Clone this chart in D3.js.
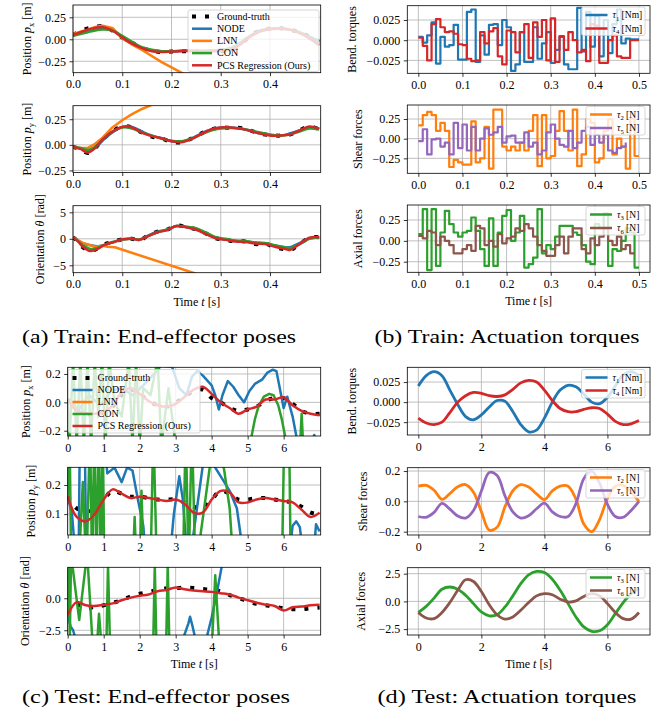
<!DOCTYPE html>
<html>
<head>
<meta charset="utf-8">
<script src="https://cdn.jsdelivr.net/npm/d3@7"></script>
<style>
  body { margin: 0; background: #fff; }
</style>
</head>
<body>
<script>
  const FONT = '"Liberation Serif", "DejaVu Serif", serif';

  // ---------- train: end-effector poses ----------
  const pxT = [0, 0.015, 0.03, 0.045, 0.06, 0.08, 0.10, 0.12, 0.14, 0.16, 0.18, 0.20, 0.22, 0.24, 0.26, 0.28, 0.30, 0.32, 0.34, 0.36, 0.38, 0.40, 0.42, 0.44, 0.46, 0.48, 0.50];
  const pxGT   = [0.05, 0.09, 0.125, 0.14, 0.15, 0.10, 0.02, -0.04, -0.10, -0.13, -0.145, -0.14, -0.135, -0.14, -0.14, -0.14, -0.135, -0.125, -0.06, 0.04, 0.10, 0.12, 0.125, 0.11, 0.08, 0.03, -0.03];
  const pxPCS  = [0.05, 0.08, 0.11, 0.13, 0.14, 0.10, 0.02, -0.05, -0.10, -0.135, -0.145, -0.14, -0.135, -0.135, -0.14, -0.14, -0.13, -0.12, -0.06, 0.03, 0.09, 0.115, 0.12, 0.11, 0.07, 0.01, -0.07];
  const pxNODE = [0.05, 0.075, 0.10, 0.12, 0.13, 0.10, 0.03, -0.04, -0.10, -0.13, -0.14, -0.14, -0.13, -0.13, -0.135, -0.13, -0.12, -0.10, -0.04, 0.04, 0.10, 0.12, 0.125, 0.11, 0.08, 0.03, -0.02];
  const pxCON  = [0.04, 0.06, 0.08, 0.10, 0.11, 0.10, 0.04, -0.03, -0.09, -0.12, -0.135, -0.135, -0.13, -0.13, -0.13, -0.13, -0.12, -0.10, -0.04, 0.04, 0.09, 0.12, 0.125, 0.11, 0.08, 0.02, -0.05];
  const pxLNN  = [0.06, 0.085, 0.11, 0.14, 0.155, 0.13, 0.01, -0.06, -0.12, -0.19, -0.26, -0.32, -0.38, -0.44, -0.50];

  const pyT = [0, 0.015, 0.03, 0.045, 0.06, 0.08, 0.10, 0.12, 0.14, 0.16, 0.18, 0.20, 0.22, 0.24, 0.26, 0.28, 0.30, 0.32, 0.34, 0.36, 0.38, 0.40, 0.42, 0.44, 0.46, 0.48, 0.50];
  const pyGT   = [-0.02, -0.04, -0.08, -0.03, 0.05, 0.13, 0.18, 0.17, 0.12, 0.08, 0.06, 0.03, 0.025, 0.06, 0.11, 0.15, 0.17, 0.165, 0.165, 0.14, 0.11, 0.095, 0.09, 0.10, 0.14, 0.18, 0.15];
  const pyPCS  = [-0.02, -0.04, -0.075, -0.03, 0.05, 0.13, 0.175, 0.17, 0.12, 0.085, 0.065, 0.035, 0.025, 0.055, 0.105, 0.15, 0.17, 0.17, 0.16, 0.135, 0.11, 0.09, 0.09, 0.10, 0.14, 0.18, 0.155];
  const pyNODE = [-0.02, -0.035, -0.06, -0.03, 0.04, 0.12, 0.175, 0.175, 0.13, 0.09, 0.065, 0.035, 0.03, 0.06, 0.11, 0.15, 0.17, 0.17, 0.16, 0.14, 0.11, 0.095, 0.09, 0.11, 0.14, 0.17, 0.16];
  const pyCON  = [-0.02, -0.03, -0.05, -0.02, 0.05, 0.13, 0.17, 0.16, 0.12, 0.09, 0.06, 0.04, 0.035, 0.06, 0.10, 0.14, 0.16, 0.165, 0.16, 0.14, 0.12, 0.10, 0.09, 0.10, 0.13, 0.16, 0.15];
  const pyLNN  = [-0.02, -0.03, -0.03, 0.01, 0.07, 0.17, 0.24, 0.30, 0.35, 0.39, 0.43];

  const thT = [0, 0.01, 0.02, 0.035, 0.05, 0.065, 0.08, 0.10, 0.12, 0.135, 0.15, 0.17, 0.19, 0.21, 0.23, 0.25, 0.27, 0.29, 0.31, 0.33, 0.35, 0.37, 0.39, 0.41, 0.43, 0.44, 0.46, 0.48, 0.50];
  const thGT   = [0.3, -0.5, -1.6, -2.3, -1.8, -1.0, -0.6, -0.1, 0.0, -0.3, 0.5, 1.3, 1.7, 2.5, 2.2, 1.8, 1.0, 0.1, -0.2, -0.5, -0.5, -1.0, -0.9, -1.6, -2.0, -2.2, -1.0, 0.2, 0.3];
  const thPCS  = [0.3, -0.5, -1.5, -2.3, -1.9, -1.1, -0.7, -0.1, 0.0, -0.2, 0.4, 1.2, 1.6, 2.4, 2.2, 1.7, 0.9, 0.1, -0.2, -0.5, -0.6, -0.9, -1.0, -1.5, -1.9, -2.1, -1.0, 0.2, 0.3];
  const thNODE = [0.3, -0.3, -0.8, -1.2, -1.4, -1.1, -0.7, -0.1, 0.0, -0.2, 0.5, 1.3, 1.7, 2.4, 2.2, 1.8, 1.0, 0.2, -0.1, -0.4, -0.5, -0.7, -0.9, -1.3, -1.6, -1.6, -0.8, 0.1, 0.2];
  const thCON  = [0.3, -0.4, -1.2, -1.9, -1.7, -1.1, -0.6, -0.2, 0.0, -0.1, 0.4, 1.2, 1.7, 2.4, 2.3, 2.0, 1.2, 0.3, 0.0, -0.3, -0.4, -0.7, -0.8, -1.2, -1.6, -1.8, -1.0, 0.0, 0.3];
  const thLNNT = [0, 0.02, 0.045, 0.06, 0.07, 0.085, 0.25];
  const thLNN  = [0.3, -0.8, -1.5, -1.3, -1.5, -1.6, -6.6];

  // ---------- train: actuation torques (piecewise constant) ----------
  const stepT = [0, 0.01, 0.02, 0.03, 0.04, 0.05, 0.06, 0.07, 0.08, 0.09, 0.10, 0.11, 0.12, 0.13, 0.14, 0.15, 0.16, 0.17, 0.18, 0.19, 0.20, 0.21, 0.22, 0.23, 0.24, 0.25, 0.26, 0.27, 0.28, 0.29, 0.30, 0.31, 0.32, 0.33, 0.34, 0.35, 0.36, 0.37, 0.38, 0.39, 0.40, 0.41, 0.42, 0.43, 0.44, 0.45, 0.46, 0.47, 0.48, 0.49, 0.50];
  const tau1Train = [0.004, -0.003, 0.006, 0.022, -0.029, 0.004, -0.008, -0.006, 0.019, -0.024, -0.024, 0.035, 0.038, -0.027, 0.006, -0.018, 0.019, 0.020, -0.006, 0.025, 0.016, -0.038, -0.030, 0.010, -0.027, -0.027, 0.016, -0.023, -0.004, 0.010, -0.028, -0.012, 0.004, -0.030, -0.036, -0.036, 0.040, -0.014, 0.035, -0.008, 0.030, -0.020, 0.025, -0.016, 0.020, 0.038, -0.004, 0.002, 0.001, 0.001, 0.001];
  const tau4Train = [0.003, -0.007, -0.025, 0.020, 0.026, 0.016, 0.010, 0.011, 0.008, -0.005, -0.006, -0.023, -0.026, -0.025, 0.010, -0.004, 0.011, 0.015, -0.020, -0.030, 0.012, 0.010, -0.015, 0.010, 0.020, -0.022, 0.022, 0.004, 0.025, -0.025, 0.027, -0.027, 0.005, -0.012, 0.010, 0.000, -0.015, -0.012, -0.026, 0.020, 0.018, -0.028, -0.028, 0.000, 0.006, -0.020, -0.022, -0.022, 0.000, 0.000, 0.000];
  const tau2Train = [0.17, 0.30, 0.34, 0.30, 0.10, 0.20, 0.10, -0.36, -0.27, -0.30, -0.33, -0.33, 0.22, -0.30, -0.25, 0.15, -0.38, 0.37, 0.37, -0.10, -0.15, -0.10, -0.15, -0.05, -0.15, 0.10, 0.30, -0.35, 0.30, -0.25, -0.22, 0.10, 0.35, 0.10, -0.15, 0.37, -0.35, -0.20, 0.25, 0.20, -0.30, -0.25, 0.10, 0.25, -0.20, 0.00, -0.10, -0.38, 0.25, -0.22, -0.22];
  const tau5Train = [-0.03, 0.12, -0.20, -0.01, 0.00, -0.10, -0.05, -0.20, 0.20, -0.12, 0.18, -0.15, 0.15, -0.15, 0.00, 0.13, 0.05, 0.08, 0.15, -0.05, 0.03, 0.04, -0.05, -0.05, 0.08, -0.10, -0.05, -0.20, -0.15, 0.08, 0.18, 0.00, -0.08, -0.10, 0.10, -0.12, -0.05, 0.10, 0.15, -0.08, 0.05, -0.05, 0.05, -0.15, -0.18, -0.12, -0.10, -0.05];
  const tau3Train = [0.08, 0.38, -0.35, 0.38, -0.30, 0.10, 0.36, 0.20, 0.10, 0.05, 0.10, 0.12, 0.28, 0.12, -0.10, -0.30, 0.27, -0.30, 0.10, 0.30, 0.37, 0.00, 0.10, 0.30, -0.32, -0.28, -0.20, 0.38, -0.15, -0.05, -0.10, 0.05, 0.18, 0.18, 0.18, 0.10, 0.07, -0.05, -0.25, -0.28, 0.20, 0.15, 0.33, -0.30, -0.10, -0.12, 0.00, 0.15, 0.10, -0.32, -0.32];
  const tau6Train = [0.06, 0.03, 0.12, 0.10, -0.05, 0.05, 0.00, -0.05, -0.15, -0.15, -0.10, -0.05, -0.12, 0.18, 0.15, -0.05, 0.00, -0.07, 0.08, -0.03, 0.03, 0.05, 0.15, 0.12, 0.20, 0.15, 0.05, -0.05, -0.12, -0.18, -0.18, -0.05, 0.05, -0.15, 0.05, 0.15, 0.15, -0.10, -0.15, 0.03, -0.05, 0.05, 0.15, 0.00, -0.05, 0.05, -0.10, -0.05, -0.15, -0.15];

  // ---------- test: end-effector poses ----------
  const testT = [0, 0.25, 0.5, 0.75, 1.0, 1.25, 1.5, 1.75, 2.0, 2.25, 2.5, 2.75, 3.0, 3.25, 3.5, 3.75, 4.0, 4.25, 4.5, 4.75, 5.0, 5.25, 5.5, 5.75, 6.0, 6.25, 6.5, 6.75, 7.0];
  const pxGTTest  = [0.02, -0.05, -0.08, -0.09, -0.07, -0.03, 0.05, 0.09, 0.06, 0.01, -0.02, -0.03, 0.0, 0.04, 0.08, 0.09, 0.03, 0.0, -0.04, -0.06, -0.05, -0.03, 0.01, 0.03, 0.03, -0.01, -0.06, -0.08, -0.08];
  const pxPCSTest = [0.02, -0.06, -0.075, -0.08, -0.07, -0.02, 0.07, 0.10, 0.06, 0.01, -0.02, -0.03, -0.01, 0.04, 0.09, 0.11, 0.06, 0.00, -0.04, -0.08, -0.05, -0.03, 0.02, 0.02, 0.035, -0.02, -0.06, -0.08, -0.09];
  const pxNODETest = [[0, 0.02], [0.3, -0.05], [0.6, 0.05], [0.9, -0.02], [1.2, 0.08], [1.5, 0.10], [1.8, 0.05], [2.1, 0.12], [2.4, 0.20], [2.6, 0.26], [2.9, 0.25], [3.1, 0.10], [3.3, 0.05], [3.45, 0.18], [3.6, 0.22], [3.75, 0.19], [4.0, 0.12], [4.1, 0.05], [4.2, -0.05], [4.3, 0.05], [4.45, 0.15], [4.6, 0.11], [4.75, 0.05], [4.9, 0.0], [5.05, 0.08], [5.2, 0.13], [5.4, 0.16], [5.55, 0.21], [5.7, 0.23], [5.8, 0.22], [5.9, 0.09], [6.0, -0.04], [6.1, 0.04], [6.25, -0.10], [6.4, -0.30], [6.75, -0.30], [6.85, -0.23], [6.95, -0.30]];
  const pxCONTest = [[0, 0.02], [0.05, -0.3], [0.15, 0.3], [0.25, -0.3], [0.35, 0.3], [0.45, -0.3], [0.55, 0.3], [0.65, -0.3], [0.75, 0.3], [0.85, -0.1], [0.95, 0.3], [1.05, -0.3], [1.15, 0.3], [1.3, 0.0], [1.5, -0.1], [1.7, 0.3], [1.8, -0.3], [1.9, 0.3], [2.0, -0.3], [2.1, 0.1], [2.3, 0.05], [2.5, 0.3], [2.6, -0.3], [2.8, 0.1], [3.0, -0.3], [3.4, -0.5], [5.0, -0.6], [5.1, -0.25], [5.2, -0.12], [5.3, -0.03], [5.45, 0.04], [5.6, 0.06], [5.72, 0.05], [5.85, -0.02], [5.95, -0.12], [6.05, -0.25], [6.4, -0.6], [6.5, -0.08], [6.6, -0.6], [7.0, -0.6]];

  const pyGTTest  = [0.16, 0.12, 0.11, 0.115, 0.15, 0.18, 0.17, 0.16, 0.16, 0.155, 0.15, 0.15, 0.15, 0.14, 0.125, 0.12, 0.15, 0.18, 0.17, 0.15, 0.15, 0.155, 0.155, 0.15, 0.145, 0.14, 0.125, 0.105, 0.10];
  const pyPCSTest = [0.16, 0.09, 0.075, 0.10, 0.15, 0.185, 0.17, 0.155, 0.16, 0.155, 0.15, 0.145, 0.15, 0.135, 0.105, 0.105, 0.15, 0.18, 0.175, 0.14, 0.14, 0.15, 0.155, 0.15, 0.145, 0.14, 0.115, 0.09, 0.105];
  const pyNODETest = [[0, 0.16], [0.12, 0.10], [0.25, -0.1], [0.3, -0.1], [0.34, 0.4], [0.47, 0.4], [0.52, -0.1], [0.9, -0.1], [1.0, 0.4], [1.1, 0.24], [1.3, 0.26], [1.5, 0.21], [1.65, 0.26], [1.8, 0.25], [1.95, 0.15], [2.1, 0.06], [2.2, -0.1], [2.8, -0.1], [2.95, 0.1], [3.1, 0.23], [3.2, 0.15], [3.35, -0.1], [3.9, 0.4], [4.1, 0.26], [4.3, 0.22], [4.5, 0.18], [4.7, 0.12], [4.95, -0.1], [6.1, -0.1], [6.25, 0.06], [6.35, 0.075], [6.45, 0.055], [6.6, -0.1], [6.8, -0.1], [6.9, 0.065], [7.0, 0.04]];
  const pyCONTest = [[0, 0.16], [0.05, 0.4], [0.1, -0.1], [0.3, -0.1], [0.42, 0.21], [0.52, -0.1], [0.62, 0.4], [0.68, -0.1], [0.74, 0.4], [0.8, -0.1], [0.86, 0.4], [0.92, -0.1], [0.97, 0.4], [1.02, -0.1], [1.8, -0.1], [1.86, 0.09], [1.92, -0.1], [2.0, -0.1], [2.05, 0.18], [2.12, -0.1], [2.3, -0.1], [2.38, 0.4], [2.48, -0.1], [3.2, -0.1], [3.28, 0.4], [3.36, -0.1], [3.45, 0.4], [3.55, -0.1], [4.1, 0.4], [4.35, 0.25], [4.5, 0.12], [4.62, -0.1], [5.95, -0.1], [6.02, 0.4], [6.15, 0.4], [6.2, -0.1], [7.0, -0.1]];

  const thGTTest  = [-1.2, -0.5, -0.8, -0.65, -0.55, -0.35, -0.15, 0.15, 0.35, 0.5, 0.65, 0.78, 0.8, 0.82, 0.8, 0.72, 0.65, 0.55, 0.25, 0.0, -0.2, -0.45, -0.55, -0.65, -0.78, -0.85, -0.85, -0.78, -0.73];
  const thPCSTest = [-1.3, -0.3, -0.55, -0.6, -0.5, -0.4, -0.15, 0.05, 0.2, 0.3, 0.55, 0.65, 0.85, 0.7, 0.6, 0.55, 0.5, 0.4, 0.3, 0.05, -0.15, -0.35, -0.5, -0.6, -0.95, -0.7, -0.65, -0.55, -0.5];
  const thNODETest = [[0, -1.3], [0.08, -2.2], [0.15, -2.5], [0.22, -3.2], [3.2, -3.2], [3.35, -2.0], [3.4, -1.45], [3.47, -2.2], [3.55, -3.2], [3.85, -3.2], [4.0, -1.5], [4.15, 0.5], [4.3, 2.8], [7.0, 2.8]];
  const thCONTest = [[0, -1.3], [0.03, 2.6], [0.06, -3.0], [0.09, 2.6], [0.13, 2.6], [0.32, -1.7], [0.5, 2.6], [0.56, 2.6], [0.68, -3.0], [0.83, -3.0], [0.87, -1.2], [0.92, -3.0], [1.08, -3.0], [1.12, 2.6], [1.17, -3.0], [2.38, -3.0], [2.42, 2.6], [2.46, -3.0], [2.74, -3.0], [2.78, 2.6], [2.82, -3.0], [4.02, -3.0], [4.1, 1.8], [4.2, -3.0], [7.0, -3.0]];

  // ---------- test: actuation torques ----------
  const tau1Test = [0.020, 0.033, 0.038, 0.033, 0.015, -0.003, -0.018, -0.022, -0.016, -0.006, 0.002, 0.001, -0.012, -0.028, -0.037, -0.035, -0.020, 0.000, 0.015, 0.021, 0.019, 0.010, 0.000, -0.002, 0.006, 0.020, 0.034, 0.038, 0.033];
  const tau4Test = [-0.020, -0.026, -0.028, -0.025, -0.013, 0.000, 0.008, 0.012, 0.011, 0.008, 0.007, 0.009, 0.016, 0.024, 0.027, 0.025, 0.015, 0.002, -0.008, -0.012, -0.012, -0.009, -0.007, -0.008, -0.015, -0.024, -0.028, -0.027, -0.023];
  const tau2Test = [0.100, 0.105, 0.073, 0.013, 0.051, 0.097, 0.110, 0.060, -0.068, -0.190, -0.170, -0.035, 0.070, 0.110, 0.095, 0.049, 0.012, 0.069, 0.100, 0.100, 0.015, -0.150, -0.200, -0.120, 0.020, 0.100, 0.105, 0.060, 0.000];
  const tau5Test = [-0.100, -0.105, -0.073, -0.013, -0.051, -0.097, -0.110, -0.060, 0.068, 0.190, 0.170, 0.035, -0.070, -0.110, -0.095, -0.049, -0.012, -0.069, -0.100, -0.100, -0.015, 0.150, 0.200, 0.120, -0.020, -0.100, -0.105, -0.060, 0.000];
  const tau3Test = [-1.0, -0.45, 0.3, 1.1, 1.3, 1.1, 0.55, -0.2, -0.95, -1.3, -1.2, -0.5, 0.5, 1.6, 2.4, 2.7, 2.6, 2.0, 1.0, -0.2, -1.4, -2.3, -2.7, -2.65, -2.1, -1.1, -0.1, 0.7, 1.2];
  const tau6Test = [-1.0, -1.5, -1.55, -1.0, -0.1, 1.0, 1.95, 1.8, 0.9, -0.3, -1.2, -1.6, -1.4, -0.8, -0.1, 0.5, 0.7, 0.6, 0.2, -0.05, 0.05, 0.45, 0.7, 0.5, -0.2, -1.0, -1.55, -1.6, -1.0];

  const trainLeftTicks = [0, 0.1, 0.2, 0.3, 0.4];
  const trainRightTicks = [0, 0.1, 0.2, 0.3, 0.4, 0.5];
  const testLeftTicks = [0, 1, 2, 3, 4, 5, 6];
  const testRightTicks = [0, 2, 4, 6];

  const C = { gt: '#000000', node: '#1f77b4', lnn: '#ff7f0e', con: '#2ca02c', pcs: '#d62728', purple: '#9467bd', brown: '#8c564b' };

  const svg = d3.select('body').append('svg')
    .attr('width', 665).attr('height', 715)
    .attr('font-family', FONT);

  // text with italic / subscript pieces
  function rich(sel, parts, fs) {
    let shift = 0;
    parts.forEach(p => {
      const ts = sel.append('tspan');
      if (typeof p === 'string') {
        ts.text(p);
        if (shift) { ts.attr('dy', -shift); shift = 0; }
      } else if (p.i) {
        ts.text(p.i).attr('font-style', 'italic');
        if (shift) { ts.attr('dy', -shift); shift = 0; }
      } else if (p.sub) {
        shift = fs * 0.25;
        ts.text(p.sub).attr('font-size', fs * 0.7).attr('dy', shift);
      }
    });
  }

  function legend(g, L) {
    const lg = g.append('g');
    lg.append('rect')
      .attr('x', L.x).attr('y', L.y).attr('width', L.w).attr('height', L.h).attr('rx', 2)
      .attr('fill', 'white').attr('fill-opacity', 0.8)
      .attr('stroke', '#cccccc').attr('stroke-width', 0.8);
    L.items.forEach((it, i) => {
      const cy = L.y + L.first + i * L.step;
      lg.append('line')
        .attr('x1', L.x + 4).attr('x2', L.x + 4 + L.hw).attr('y1', cy).attr('y2', cy)
        .attr('stroke', it.color).attr('stroke-width', it.w)
        .attr('stroke-dasharray', it.dash || null);
      const tx = lg.append('text')
        .attr('x', L.x + 9 + L.hw).attr('y', cy).attr('dy', '0.33em')
        .attr('font-size', L.fs);
      rich(tx, it.label, L.fs);
    });
  }

  let clipN = 0;
  function panel(p) {
    const x = d3.scaleLinear().domain(p.xd).range([p.x0, p.x1]);
    const y = d3.scaleLinear().domain(p.yd).range([p.y1, p.y0]);
    const g = svg.append('g');
    const cid = 'clip' + (clipN++);
    g.append('clipPath').attr('id', cid).append('rect')
      .attr('x', p.x0).attr('y', p.y0).attr('width', p.x1 - p.x0).attr('height', p.y1 - p.y0);

    const grid = g.append('g').attr('stroke', '#b0b0b0').attr('stroke-width', 0.8);
    grid.selectAll('.gx').data(p.xt).join('line')
      .attr('x1', d => x(d)).attr('x2', d => x(d)).attr('y1', p.y0).attr('y2', p.y1);
    grid.selectAll('.gy').data(p.yt).join('line')
      .attr('x1', p.x0).attr('x2', p.x1).attr('y1', d => y(d)).attr('y2', d => y(d));

    const body = g.append('g').attr('clip-path', `url(#${cid})`);
    p.series.forEach(s => {
      const pts = s.pairs ? s.pairs : s.v.map((v, i) => [s.t[i], v]);
      body.append('path')
        .attr('d', d3.line().x(d => x(d[0])).y(d => y(d[1])).curve(s.curve || d3.curveLinear)(pts))
        .attr('fill', 'none').attr('stroke', s.color).attr('stroke-width', s.w)
        .attr('stroke-dasharray', s.dash || null)
        .attr('stroke-linejoin', 'round');
    });

    const ax = g.append('g').attr('transform', `translate(0,${p.y1})`)
      .call(d3.axisBottom(x).tickValues(p.xt).tickFormat(p.xf).tickSize(3.5).tickPadding(3.5));
    const ay = g.append('g').attr('transform', `translate(${p.x0},0)`)
      .call(d3.axisLeft(y).tickValues(p.yt).tickFormat(p.yf).tickSize(3.5).tickPadding(3.5));
    [ax, ay].forEach(a => {
      a.attr('font-family', FONT).attr('font-size', 12);
      a.select('.domain').remove();
      a.selectAll('.tick line').attr('stroke-width', 0.8);
      a.selectAll('.tick text').attr('fill', '#000');
    });

    g.append('rect')
      .attr('x', p.x0).attr('y', p.y0).attr('width', p.x1 - p.x0).attr('height', p.y1 - p.y0)
      .attr('fill', 'none').attr('stroke', '#000').attr('stroke-width', 0.8);

    const yl = g.append('text')
      .attr('transform', `translate(${p.lx},${(p.y0 + p.y1) / 2}) rotate(-90)`)
      .attr('text-anchor', 'middle').attr('font-size', 12);
    rich(yl, p.ylabel, 12);

    if (p.xlabel) {
      const xl = g.append('text')
        .attr('x', (p.x0 + p.x1) / 2).attr('y', p.y1 + 33)
        .attr('text-anchor', 'middle').attr('font-size', 12);
      rich(xl, ['Time ', { i: 't' }, ' [s]'], 12);
    }
    if (p.legend) legend(g, p.legend);
  }

  const smooth = d3.curveCatmullRom;
  const gtStyle = { color: C.gt, w: 4, dash: '4,9' };

  function poseSeries(t, gt, node, lnn, lnnT, con, pcs) {
    const s = [Object.assign({ t: t, v: gt, curve: smooth }, gtStyle)];
    s.push({ t: t, v: node, color: C.node, w: 2.5, curve: smooth });
    if (lnn) s.push({ t: lnnT || t, v: lnn, color: C.lnn, w: 2.5, curve: d3.curveLinear });
    s.push({ t: t, v: con, color: C.con, w: 2.5, curve: smooth });
    s.push({ t: t, v: pcs, color: C.pcs, w: 2.5, curve: smooth });
    return s;
  }

  const poseItems = [
    { label: ['Ground-truth'], color: C.gt, w: 4, dash: '4,9' },
    { label: ['NODE'], color: C.node, w: 2.5 },
    { label: ['LNN'], color: C.lnn, w: 2.5 },
    { label: ['CON'], color: C.con, w: 2.5 },
    { label: ['PCS Regression (Ours)'], color: C.pcs, w: 2.5 }
  ];
  const tauItems = (a, b, ca, cb, unit) => [
    { label: [{ i: 'τ' }, { sub: a }, ' ' + unit], color: ca, w: 2.5 },
    { label: [{ i: 'τ' }, { sub: b }, ' ' + unit], color: cb, w: 2.5 }
  ];

  const f1 = d3.format('.1f'), f2 = d3.format('.2f'), f3 = d3.format('.3f'), f0 = d3.format('d');

  // ----- (a) train poses -----
  const LA = { x0: 73, x1: 320.7, xd: [0, 0.503], xt: trainLeftTicks, xf: f1 };
  panel(Object.assign({}, LA, {
    y0: 5, y1: 72.7, yd: [-0.38, 0.39], yt: [-0.25, 0, 0.25], yf: f2, lx: 31,
    ylabel: ['Position ', { i: 'p' }, { sub: 'x' }, ' [m]'],
    series: poseSeries(pxT, pxGT, pxNODE, pxLNN, null, pxCON, pxPCS),
    legend: { x: 188, y: 10, w: 131, h: 61.5, first: 6.5, step: 12.2, hw: 20, fs: 10, items: poseItems }
  }));
  panel(Object.assign({}, LA, {
    y0: 105.7, y1: 172.5, yd: [-0.27, 0.382], yt: [-0.25, 0, 0.25], yf: f2, lx: 31,
    ylabel: ['Position ', { i: 'p' }, { sub: 'y' }, ' [m]'],
    series: poseSeries(pyT, pyGT, pyNODE, pyLNN, null, pyCON, pyPCS)
  }));
  panel(Object.assign({}, LA, {
    y0: 205.7, y1: 272.7, yd: [-6.4, 6.25], yt: [-5, 0, 5], yf: f0, lx: 44,
    ylabel: ['Orientation ', { i: 'θ' }, ' [rad]'], xlabel: true,
    series: poseSeries(thT, thGT, thNODE, thLNN, thLNNT, thCON, thPCS)
  }));

  // ----- (b) train torques -----
  const RB = { x0: 407.3, x1: 650, xd: [-0.025, 0.525], xt: trainRightTicks, xf: f1 };
  const stepS = (v, c) => ({ t: stepT, v: v, color: c, w: 2.2, curve: d3.curveStepAfter });
  panel(Object.assign({}, RB, {
    y0: 5.7, y1: 73.3, yd: [-0.041, 0.0427], yt: [-0.025, 0, 0.025], yf: f3, lx: 356,
    ylabel: ['Bend. torques'],
    series: [stepS(tau1Train, C.node), stepS(tau4Train, C.pcs)],
    legend: { x: 581.5, y: 7, w: 63.5, h: 28.5, first: 8, step: 13.5, hw: 22, fs: 9.5, items: tauItems('1', '4', C.node, C.pcs, '[Nm]') }
  }));
  panel(Object.assign({}, RB, {
    y0: 105, y1: 173.3, yd: [-0.44, 0.428], yt: [-0.25, 0, 0.25], yf: f2, lx: 362,
    ylabel: ['Shear forces'],
    series: [stepS(tau2Train, C.lnn), stepS(tau5Train, C.purple)],
    legend: { x: 586, y: 106.5, w: 59, h: 28.5, first: 8, step: 13.5, hw: 22, fs: 9.5, items: tauItems('2', '5', C.lnn, C.purple, '[N]') }
  }));
  panel(Object.assign({}, RB, {
    y0: 205, y1: 272.3, yd: [-0.377, 0.43], yt: [-0.25, 0, 0.25], yf: f2, lx: 362,
    ylabel: ['Axial forces'], xlabel: true,
    series: [stepS(tau3Train, C.con), stepS(tau6Train, C.brown)],
    legend: { x: 586, y: 206.5, w: 59, h: 28.5, first: 8, step: 13.5, hw: 22, fs: 9.5, items: tauItems('3', '6', C.con, C.brown, '[N]') }
  }));

  // ----- (c) test poses -----
  const LC = { x0: 67.7, x1: 320.7, xd: [0, 7.03], xt: testLeftTicks, xf: f0 };
  const testPose = (gt, node, con, pcs) => [
    Object.assign({ t: testT, v: gt, curve: smooth }, gtStyle),
    { pairs: node, color: C.node, w: 2.5 },
    { pairs: con, color: C.con, w: 2.5 },
    { t: testT, v: pcs, color: C.pcs, w: 2.5, curve: smooth }
  ];
  panel(Object.assign({}, LC, {
    y0: 367.3, y1: 436, yd: [-0.237, 0.247], yt: [-0.2, 0, 0.2], yf: f1, lx: 30,
    ylabel: ['Position ', { i: 'p' }, { sub: 'x' }, ' [m]'],
    series: testPose(pxGTTest, pxNODETest, pxCONTest, pxPCSTest),
    legend: { x: 68.5, y: 369.5, w: 131.5, h: 63.5, first: 8.5, step: 12, hw: 20, fs: 10, items: poseItems }
  }));
  panel(Object.assign({}, LC, {
    y0: 467.3, y1: 535, yd: [0.028, 0.261], yt: [0.1, 0.2], yf: f1, lx: 35,
    ylabel: ['Position ', { i: 'p' }, { sub: 'y' }, ' [m]'],
    series: testPose(pyGTTest, pyNODETest, pyCONTest, pyPCSTest)
  }));
  panel(Object.assign({}, LC, {
    y0: 567.3, y1: 635, yd: [-2.87, 2.42], yt: [-2.5, 0], yf: f1, lx: 29,
    ylabel: ['Orientation ', { i: 'θ' }, ' [rad]'], xlabel: true,
    series: testPose(thGTTest, thNODETest, thCONTest, thPCSTest)
  }));

  // ----- (d) test torques -----
  const RD = { x0: 407.3, x1: 650, xd: [-0.35, 7.35], xt: testRightTicks, xf: f0 };
  const smoothS = (v, c) => ({ t: testT, v: v, color: c, w: 2.8, curve: smooth });
  panel(Object.assign({}, RD, {
    y0: 367.3, y1: 435, yd: [-0.041, 0.0434], yt: [-0.025, 0, 0.025], yf: f3, lx: 356,
    ylabel: ['Bend. torques'],
    series: [smoothS(tau1Test, C.node), smoothS(tau4Test, C.pcs)],
    legend: { x: 581.5, y: 369.5, w: 63.5, h: 28.5, first: 8, step: 13, hw: 22, fs: 9.5, items: tauItems('1', '4', C.node, C.pcs, '[Nm]') }
  }));
  panel(Object.assign({}, RD, {
    y0: 467.7, y1: 535, yd: [-0.222, 0.222], yt: [-0.2, 0, 0.2], yf: f1, lx: 367,
    ylabel: ['Shear forces'],
    series: [smoothS(tau2Test, C.lnn), smoothS(tau5Test, C.purple)],
    legend: { x: 586, y: 469.5, w: 59, h: 28.5, first: 8, step: 13, hw: 22, fs: 9.5, items: tauItems('2', '5', C.lnn, C.purple, '[N]') }
  }));
  panel(Object.assign({}, RD, {
    y0: 567.7, y1: 635, yd: [-3.03, 3.04], yt: [-2.5, 0, 2.5], yf: f1, lx: 365,
    ylabel: ['Axial forces'], xlabel: true,
    series: [smoothS(tau3Test, C.con), smoothS(tau6Test, C.brown)],
    legend: { x: 586, y: 569.5, w: 59, h: 28.5, first: 8, step: 13, hw: 22, fs: 9.5, items: tauItems('3', '6', C.con, C.brown, '[N]') }
  }));

  // sub-figure captions (widths matched to the reference)
  const captions = [
    { text: '(a) Train: End-effector poses', x: 159, y: 343, len: 274 },
    { text: '(b) Train: Actuation torques', x: 507, y: 343, len: 265 },
    { text: '(c) Test: End-effector poses', x: 156, y: 703, len: 268 },
    { text: '(d) Test: Actuation torques', x: 507, y: 703, len: 259 }
  ];
  svg.selectAll('.cap').data(captions).join('text')
    .attr('x', d => d.x).attr('y', d => d.y)
    .attr('text-anchor', 'middle').attr('font-size', 19)
    .attr('textLength', d => d.len).attr('lengthAdjust', 'spacingAndGlyphs')
    .text(d => d.text);
</script>
</body>
</html>
